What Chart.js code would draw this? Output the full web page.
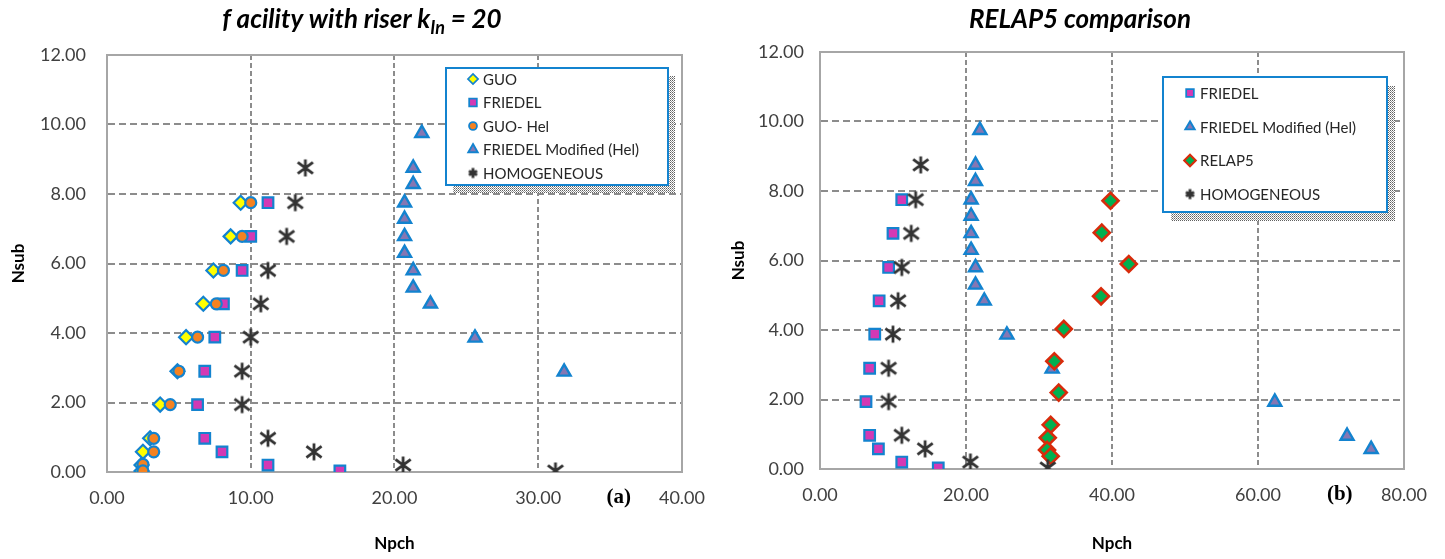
<!DOCTYPE html>
<html>
<head>
<meta charset="utf-8">
<title>Npch vs Nsub</title>
<script src="https://cdn.jsdelivr.net/npm/chart.js@4.4.0/dist/chart.umd.min.js"></script>
<style>
    body { margin: 0; background: #fff; }
    #wrap { position: relative; width: 1445px; height: 559px; }
    canvas { position: absolute; top: 0; }
    #left { left: 0; }
    #right { left: 720px; }
</style>
</head>
<body>
<div id="wrap">
    <canvas id="left" width="720" height="559"></canvas>
    <canvas id="right" width="725" height="559"></canvas>
</div>
<script>
// ---- data (Npch on x, Nsub on y) ----
var guoNpch = [9.3, 8.6, 7.4, 6.7, 5.5, 4.9, 3.7, 3.0, 2.5, 2.4, 2.4];
var guoNsub = [7.75, 6.78, 5.80, 4.84, 3.88, 2.90, 1.94, 0.97, 0.58, 0.20, 0.03];

var guoHelNpch = [10.0, 9.4, 8.1, 7.6, 6.3, 5.0, 4.4, 3.25, 3.25, 2.5, 2.5];
var guoHelNsub = [7.75, 6.78, 5.80, 4.84, 3.88, 2.90, 1.94, 0.97, 0.58, 0.22, 0.03];

var friedelNpch = [11.2, 10.0, 9.4, 8.1, 7.5, 6.8, 6.3, 6.8, 8.0, 11.2, 16.2];
var friedelNsub = [7.75, 6.78, 5.80, 4.84, 3.88, 2.90, 1.94, 0.97, 0.58, 0.20, 0.03];

var friedelModNpch = [21.9, 21.3, 21.3, 20.7, 20.7, 20.7, 20.7, 21.3, 21.3, 22.5, 25.6, 31.8, 62.3, 72.2, 75.5];
var friedelModNsub = [9.75, 8.75, 8.28, 7.75, 7.28, 6.78, 6.30, 5.80, 5.30, 4.84, 3.86, 2.88, 1.93, 0.95, 0.57];

var homogNpch = [13.8, 13.1, 12.5, 11.2, 10.7, 10.0, 9.4, 9.4, 11.2, 14.4, 20.6, 31.2];
var homogNsub = [8.75, 7.75, 6.78, 5.80, 4.84, 3.88, 2.90, 1.94, 0.97, 0.58, 0.20, 0.03];

var relap5Npch = [39.8, 38.6, 42.3, 38.5, 33.4, 32.1, 32.7, 31.6, 31.2, 31.1, 31.6];
var relap5Nsub = [7.72, 6.80, 5.90, 4.97, 4.03, 3.10, 2.20, 1.27, 0.90, 0.55, 0.37];

var FONT = 'Lato, "Open Sans", sans-serif';
var BLUE = '#1383cf';

function pairs(xs, ys) {
    return xs.map(function (x, i) { return { x: x, y: ys[i] }; });
}

// asterisk marker: an X with a vertical bar through it
function makeStar(size, lw) {
    var c = document.createElement('canvas');
    c.width = size;
    c.height = size;
    var g = c.getContext('2d');
    var m = lw / 2 + 1, s = size - m;
    g.strokeStyle = '#333';
    g.lineWidth = lw;
    g.beginPath();
    g.moveTo(m, m + 2); g.lineTo(s, s - 2);
    g.moveTo(s, m + 2); g.lineTo(m, s - 2);
    g.moveTo(size / 2, m - 1); g.lineTo(size / 2, s + 1);
    g.stroke();
    return c;
}
var starBig = makeStar(20, 2.8);
var starSmall = makeStar(13, 2.8);

function series(label, xs, ys, style, order) {
    return Object.assign({ label: label, data: pairs(xs, ys), order: order, showLine: false }, style);
}

var sGuo = { pointStyle: 'rectRot', pointRadius: 7, pointBackgroundColor: '#ffff00', pointBorderColor: BLUE, pointBorderWidth: 2.2 };
var sFriedel = { pointStyle: 'rect', pointRadius: 7.5, pointBackgroundColor: '#d339b4', pointBorderColor: BLUE, pointBorderWidth: 2.2 };
var sGuoHel = { pointStyle: 'circle', pointRadius: 5.5, pointBackgroundColor: '#f58220', pointBorderColor: BLUE, pointBorderWidth: 2.2 };
var sFriedelMod = { pointStyle: 'triangle', pointRadius: 7.5, pointBackgroundColor: '#8577b3', pointBorderColor: BLUE, pointBorderWidth: 2.4 };
var sRelap = { pointStyle: 'rectRot', pointRadius: 8, pointBackgroundColor: '#00b050', pointBorderColor: '#d82b0b', pointBorderWidth: 2.6 };
var sHomog = { pointStyle: starBig, pointRadius: 10, pointBackgroundColor: '#333', pointBorderColor: '#333', pointBorderWidth: 0 };

// shadow texture for the legend box
var dotPattern = (function () {
    var c = document.createElement('canvas');
    c.width = 2; c.height = 2;
    var g = c.getContext('2d');
    g.fillStyle = '#fff'; g.fillRect(0, 0, 2, 2);
    g.fillStyle = '#5f5f5f'; g.fillRect(0, 0, 1, 1);
    g.fillStyle = '#9a9a9a'; g.fillRect(1, 1, 1, 1);
    return c;
})();

function drawTitle(ctx, t) {
    var big = 'italic bold ' + t.size + 'px ' + FONT;
    var small = 'italic bold ' + Math.round(t.size * 0.68) + 'px ' + FONT;
    var w = 0;
    t.parts.forEach(function (p) {
        ctx.font = p.sub ? small : big;
        p.w = ctx.measureText(p.text).width;
        w += p.w;
    });
    var x = t.x - w / 2;
    ctx.fillStyle = '#000';
    ctx.textBaseline = 'alphabetic';
    ctx.textAlign = 'left';
    t.parts.forEach(function (p) {
        ctx.font = p.sub ? small : big;
        ctx.fillText(p.text, x, t.y + (p.sub ? 6 : 0));
        x += p.w;
    });
}

function drawLegend(chart, lg) {
    var ctx = chart.ctx;
    ctx.save();
    ctx.fillStyle = ctx.createPattern(dotPattern, 'repeat');
    ctx.fillRect(lg.x + lg.sx, lg.y + lg.sy, lg.w, lg.h);
    ctx.fillStyle = '#fff';
    ctx.fillRect(lg.x, lg.y, lg.w, lg.h);
    ctx.strokeStyle = BLUE;
    ctx.lineWidth = 2;
    ctx.strokeRect(lg.x, lg.y, lg.w, lg.h);

    lg.items.forEach(function (idx, i) {
        var ds = chart.data.datasets[idx];
        var y = lg.y + lg.first + i * lg.step;
        var mx = lg.x + lg.mx;
        ctx.fillStyle = ds.pointBackgroundColor;
        ctx.strokeStyle = ds.pointBorderColor;
        ctx.lineWidth = ds.pointBorderWidth * 0.8;
        var style = ds.pointStyle === starBig ? starSmall : ds.pointStyle;
        Chart.helpers.drawPoint(ctx, {
            pointStyle: style, radius: ds.pointRadius * 0.72,
            borderWidth: ds.pointBorderWidth, rotation: 0
        }, mx, y);
        ctx.fillStyle = '#262626';
        ctx.font = '15px ' + FONT;
        ctx.textAlign = 'left';
        ctx.textBaseline = 'middle';
        ctx.fillText(ds.label, lg.x + lg.tx, y + 1);
    });
    ctx.restore();
}

function overlay(cfg) {
    return {
        id: 'overlay',
        beforeDatasetsDraw: function (chart) {
            var a = chart.chartArea, ctx = chart.ctx;
            ctx.save();
            ctx.strokeStyle = '#a6a6a6';
            ctx.lineWidth = 2;
            ctx.strokeRect(a.left, a.top, a.right - a.left, a.bottom - a.top);
            ctx.restore();
        },
        afterDatasetsDraw: function (chart) {
            drawLegend(chart, cfg.legend);
        },
        afterDraw: function (chart) {
            var ctx = chart.ctx;
            ctx.save();
            drawTitle(ctx, cfg.title);
            ctx.font = 'bold 21px "Liberation Serif", serif';
            ctx.fillStyle = '#000';
            ctx.textAlign = 'center';
            ctx.textBaseline = 'middle';
            ctx.fillText(cfg.tag.text, chart.scales.x.getPixelForValue(cfg.tag.at), chart.chartArea.bottom + 26);
            ctx.restore();
        }
    };
}

function twoDp(v) { return Number(v).toFixed(2); }

function axis(opts) {
    return {
        type: 'linear',
        min: 0,
        max: opts.max,
        ticks: {
            stepSize: opts.step, padding: opts.pad, color: '#404040', autoSkip: false,
            font: { family: FONT, size: 18 }, callback: twoDp
        },
        grid: { color: '#8c8c8c', lineWidth: opts.gridWidth, drawTicks: false },
        border: { display: true, color: '#a6a6a6', width: 2, dash: opts.dash },
        title: {
            display: true, text: opts.title, color: '#000',
            font: { family: FONT, size: 17, weight: 'bold' }, padding: opts.titlePad
        },
        afterFit: opts.fit
    };
}

function buildChart(id, datasets, o) {
    return new Chart(document.getElementById(id), {
        type: 'scatter',
        data: { datasets: datasets },
        options: {
            responsive: false,
            animation: false,
            events: [],
            layout: { padding: { top: o.top, right: o.right, left: 0, bottom: 0 } },
            plugins: { legend: { display: false }, tooltip: { enabled: false } },
            scales: {
                x: axis({
                    max: o.xmax, step: o.xstep, pad: 15, gridWidth: 2, dash: [5, 3], title: 'Npch',
                    titlePad: { top: 0, bottom: 5 },
                    fit: function (s) { s.height = o.xh; }
                }),
                y: axis({
                    max: 12, step: 2, pad: o.ypad, gridWidth: 2, dash: [7, 4], title: 'Nsub',
                    titlePad: { top: 8, bottom: 0 },
                    fit: function (s) { s.width = o.yw; }
                })
            }
        },
        plugins: [overlay(o)]
    });
}

// (a) facility with riser
buildChart('left', [
    series('GUO', guoNpch, guoNsub, sGuo, 5),
    series('FRIEDEL', friedelNpch, friedelNsub, sFriedel, 4),
    series('GUO- Hel', guoHelNpch, guoHelNsub, sGuoHel, 3),
    series('FRIEDEL Modified (Hel)', friedelModNpch, friedelModNsub, sFriedelMod, 2),
    series('HOMOGENEOUS', homogNpch, homogNsub, sHomog, 1)
], {
    top: 55, right: 32, xh: 87, yw: 107, ypad: 21, xmax: 40, xstep: 10,
    title: { x: 362, y: 28, size: 26, parts: [
        { text: 'f acility with riser k' }, { text: 'In', sub: true }, { text: ' = 20' }
    ] },
    tag: { text: '(a)', at: 35.6 },
    legend: { x: 446, y: 68, w: 222, h: 117, sx: 7, sy: 8, mx: 27, tx: 37, first: 11, step: 23.5,
              items: [0, 1, 2, 3, 4] }
});

// (b) RELAP5 comparison
buildChart('right', [
    series('FRIEDEL', friedelNpch, friedelNsub, sFriedel, 4),
    series('FRIEDEL Modified (Hel)', friedelModNpch, friedelModNsub, sFriedelMod, 3),
    series('RELAP5', relap5Npch, relap5Nsub, sRelap, 2),
    series('HOMOGENEOUS', homogNpch, homogNsub, sHomog, 1)
], {
    top: 52, right: 41, xh: 90, yw: 100, ypad: 16, xmax: 80, xstep: 20,
    title: { x: 360, y: 28, size: 26, parts: [{ text: 'RELAP5 comparison' }] },
    tag: { text: '(b)', at: 71.2 },
    legend: { x: 443, y: 77, w: 224, h: 135, sx: 8, sy: 9, mx: 27, tx: 37, first: 16, step: 33.7,
              items: [0, 1, 2, 3] }
});
</script>
</body>
</html>
